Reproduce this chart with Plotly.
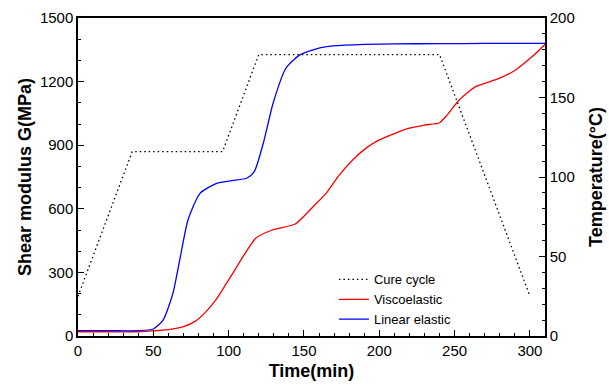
import plotly.graph_objects as go

# Cure cycle (temperature, °C)
cure_t = [0, 36, 96, 120, 240, 300]
cure_T = [25, 116, 116, 177, 177, 25]

# Linear elastic (MPa)
lin_t = [0, 20, 40, 50, 56.5, 63, 67.5, 73, 81, 92, 102, 112, 117, 123, 129.5, 138, 147, 156, 165, 177, 190, 210, 240, 270, 310]
lin_G = [25, 25, 25, 33, 75, 201, 358, 547, 673, 720, 733, 744, 775, 909, 1098, 1263, 1325, 1350, 1365, 1372, 1376, 1378, 1379, 1380, 1380]

# Viscoelastic (MPa)
vis_t = [0, 20, 40, 50, 60, 70, 78, 85, 92, 98.5, 104, 109.5, 118, 129, 144, 150, 156, 164.7, 173, 182.3, 191, 200, 210, 220, 230, 240, 245, 253, 264, 279.5, 290.5, 301.5, 310]
vis_G = [20, 20, 20, 24, 30, 44, 70, 115, 175, 248, 310, 374, 461, 500, 527, 565, 610, 673, 755, 830, 885, 925, 955, 980, 995, 1006, 1042, 1113, 1176, 1215, 1255, 1318, 1375]

fig = go.Figure()
fig.add_trace(go.Scatter(x=cure_t, y=cure_T, name="Cure cycle", mode="lines",
                         line=dict(color="black", width=1.3, dash="1.5px,3px"), yaxis="y2"))
fig.add_trace(go.Scatter(x=vis_t, y=vis_G, name="Viscoelastic", mode="lines",
                         line=dict(color="#ff0000", width=1.3, shape="spline", smoothing=0.6)))
fig.add_trace(go.Scatter(x=lin_t, y=lin_G, name="Linear elastic", mode="lines",
                         line=dict(color="#0000ff", width=1.3, shape="spline", smoothing=0.6)))

font = "Liberation Sans, Arial, sans-serif"
fig.update_layout(
    width=609, height=387,
    margin=dict(l=78, r=64, t=18, b=51, autoexpand=False),
    paper_bgcolor="white", plot_bgcolor="white",
    font=dict(family=font, size=15, color="black"),
    showlegend=True,
    legend=dict(x=0.548, y=0.225, xanchor="left", yanchor="top",
                bgcolor="rgba(0,0,0,0)", font=dict(size=13), tracegroupgap=0,
                itemwidth=30),
    xaxis=dict(range=[0, 310], tickmode="linear", tick0=0, dtick=50, automargin=False,
               ticks="inside", ticklen=6, tickwidth=1.3, tickcolor="black",
               minor=dict(dtick=10, ticks="inside", ticklen=3, tickwidth=1, tickcolor="black"),
               showline=True, linecolor="black", linewidth=1.5, mirror=True,
               showgrid=False, zeroline=False,
               title=dict(text="<b>Time(min)</b>", font=dict(size=18), standoff=7)),
    yaxis=dict(range=[0, 1500], tickmode="linear", tick0=0, dtick=300, automargin=False,
               ticks="inside", ticklen=6, tickwidth=1.3, tickcolor="black",
               minor=dict(dtick=100, ticks="inside", ticklen=3, tickwidth=1, tickcolor="black"),
               showline=True, linecolor="black", linewidth=1.5,
               showgrid=False, zeroline=False,
               title=dict(text="<b>Shear modulus G(MPa)</b>", font=dict(size=18), standoff=4)),
    yaxis2=dict(range=[0, 200], overlaying="y", side="right", tickmode="linear", tick0=0, dtick=50,
                automargin=False,
                ticks="inside", ticklen=6, tickwidth=1.3, tickcolor="black",
                minor=dict(dtick=10, ticks="inside", ticklen=3, tickwidth=1, tickcolor="black"),
                showline=True, linecolor="black", linewidth=1.5,
                showgrid=False, zeroline=False,
                title=dict(text="<b>Temperature(°C)</b>", font=dict(size=18), standoff=16)),
)
fig.write_html("out.html")
